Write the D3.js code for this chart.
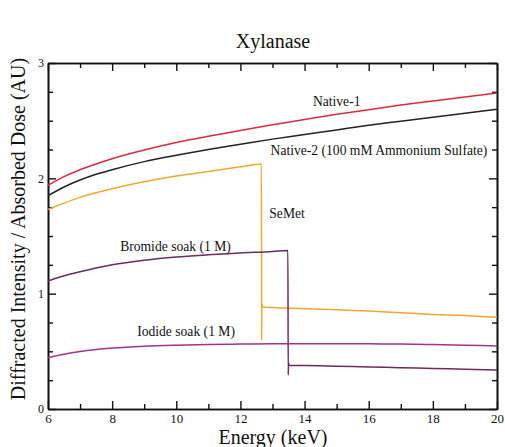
<!DOCTYPE html>
<html>
<head>
<meta charset="utf-8">
<script src="https://cdn.jsdelivr.net/npm/d3@7"></script>
<style>
  body { margin: 0; background: #fff; }
</style>
</head>
<body>
<svg id="xylanaseVis" width="505" height="447"></svg>
<script>
// energies (keV) and values, one array per series
const native1Energy = [6, 6.5, 7, 7.5, 8, 9, 10, 11, 12, 13, 14, 15, 16, 17, 18, 19, 20];
const native1Value = [1.94, 2.015, 2.075, 2.125, 2.17, 2.245, 2.31, 2.365, 2.415, 2.465, 2.51, 2.555, 2.595, 2.635, 2.67, 2.705, 2.74];

const native2Energy = [6, 6.5, 7, 7.5, 8, 9, 10, 11, 12, 13, 14, 15, 16, 17, 18, 19, 20];
const native2Value = [1.85, 1.925, 1.985, 2.035, 2.075, 2.145, 2.20, 2.25, 2.295, 2.34, 2.38, 2.42, 2.46, 2.495, 2.53, 2.565, 2.60];

const semetEnergy = [6, 6.5, 7, 7.5, 8, 9, 10, 11, 12, 12.655, 12.66, 12.665, 12.67, 12.7, 13, 14, 15, 16, 17, 18, 19, 20];
const semetValue = [1.73, 1.785, 1.835, 1.875, 1.91, 1.97, 2.02, 2.06, 2.10, 2.125, 0.60, 0.83, 0.91, 0.885, 0.88, 0.87, 0.86, 0.85, 0.835, 0.82, 0.81, 0.795];

const bromideEnergy = [6, 6.5, 7, 7.5, 8, 9, 10, 11, 12, 13, 13.48, 13.49, 13.5, 13.52, 14, 15, 16, 17, 18, 19, 20];
const bromideValue = [1.11, 1.155, 1.19, 1.222, 1.25, 1.29, 1.318, 1.337, 1.353, 1.366, 1.375, 0.295, 0.40, 0.38, 0.377, 0.371, 0.364, 0.358, 0.351, 0.345, 0.338];

const iodideEnergy = [6, 6.5, 7, 7.5, 8, 9, 10, 11, 12, 13, 14, 15, 16, 17, 18, 19, 20];
const iodideValue = [0.445, 0.475, 0.498, 0.515, 0.528, 0.544, 0.553, 0.559, 0.563, 0.565, 0.566, 0.566, 0.565, 0.563, 0.559, 0.553, 0.547];

const seriesNames = ['Native-1', 'Native-2 (100 mM Ammonium Sulfate)', 'SeMet', 'Bromide soak (1 M)', 'Iodide soak (1 M)'];
const seriesColors = ['#dc2a3c', '#222222', '#f2a72c', '#6c2a62', '#a3328f'];

const xTicks = [6, 8, 10, 12, 14, 16, 18, 20];
const yTicks = [0, 1, 2, 3];

const serif = '"Liberation Serif", "DejaVu Serif", "Times New Roman", serif';

const margin = { top: 63, right: 8, bottom: 38, left: 48 };
const containerWidth = 505, containerHeight = 447;
const width = containerWidth - margin.left - margin.right;
const height = containerHeight - margin.top - margin.bottom;

const svg = d3.select('svg#xylanaseVis');
const chartG = svg.append('g')
    .attr('transform', `translate(${margin.left},${margin.top})`);

const xScale = d3.scaleLinear().domain([6, 20]).range([0, width]);
const yScale = d3.scaleLinear().domain([0, 3]).range([height, 0]);

// ticks point inward on all four sides
const tick = (axis, minor) => axis.tickSizeInner(minor ? -5 : -8).tickSizeOuter(0);

chartG.append('g')
    .attr('transform', `translate(0,${height})`)
    .call(tick(d3.axisBottom(xScale).tickValues(d3.range(7, 20, 2)).tickFormat(''), true));
chartG.append('g')
    .attr('class', 'x-axis')
    .attr('transform', `translate(0,${height})`)
    .call(tick(d3.axisBottom(xScale).tickValues(xTicks).tickFormat(d3.format('d')).tickPadding(5)));
chartG.append('g')
    .call(tick(d3.axisTop(xScale).tickValues(d3.range(7, 20, 2)).tickFormat(''), true));
chartG.append('g')
    .call(tick(d3.axisTop(xScale).tickValues(xTicks).tickFormat('')));

const yMinor = d3.range(0.25, 3, 0.25).filter(v => v % 1 !== 0);
chartG.append('g')
    .call(tick(d3.axisLeft(yScale).tickValues(yMinor).tickFormat(''), true));
chartG.append('g')
    .attr('class', 'y-axis')
    .call(tick(d3.axisLeft(yScale).tickValues(yTicks).tickFormat(d3.format('d')).tickPadding(4)));
chartG.append('g')
    .attr('transform', `translate(${width},0)`)
    .call(tick(d3.axisRight(yScale).tickValues(yMinor).tickFormat(''), true));
chartG.append('g')
    .attr('transform', `translate(${width},0)`)
    .call(tick(d3.axisRight(yScale).tickValues(yTicks).tickFormat('')));

chartG.selectAll('.domain').attr('stroke', '#111').attr('stroke-width', 1.6);
chartG.selectAll('.tick line').attr('stroke', '#111').attr('stroke-width', 1.4);
chartG.selectAll('g').attr('font-family', serif);
chartG.selectAll('.x-axis text').attr('font-size', 13).attr('fill', '#111');
chartG.selectAll('.y-axis text').attr('font-size', 12).attr('fill', '#111');

const lineGen = d3.line()
    .x(d => xScale(d[0]))
    .y(d => yScale(d[1]))
    .curve(d3.curveMonotoneX);

const allSeries = [
    d3.zip(native1Energy, native1Value),
    d3.zip(native2Energy, native2Value),
    d3.zip(semetEnergy, semetValue),
    d3.zip(bromideEnergy, bromideValue),
    d3.zip(iodideEnergy, iodideValue)
];

chartG.append('g')
    .selectAll('path')
    .data(allSeries)
    .enter()
    .append('path')
    .attr('fill', 'none')
    .attr('stroke', (d, i) => seriesColors[i])
    .attr('stroke-width', 1.5)
    .attr('d', lineGen);

// curve labels, placed in data units next to each curve
const labelPos = [[14.26, 2.665], [12.94, 2.24], [12.9, 1.70], [8.25, 1.414], [8.78, 0.67]];
chartG.append('g')
    .selectAll('text')
    .data(seriesNames)
    .enter()
    .append('text')
    .attr('x', (d, i) => xScale(labelPos[i][0]))
    .attr('y', (d, i) => yScale(labelPos[i][1]))
    .attr('dy', '0.35em')
    .attr('font-family', serif)
    .attr('font-size', 13.6)
    .attr('fill', '#111')
    .text(d => d);

svg.append('text')
    .attr('x', 273)
    .attr('y', 48)
    .attr('text-anchor', 'middle')
    .attr('font-family', serif)
    .attr('font-size', 20)
    .attr('fill', '#111')
    .text('Xylanase');

svg.append('text')
    .attr('x', 273)
    .attr('y', 444)
    .attr('text-anchor', 'middle')
    .attr('font-family', serif)
    .attr('font-size', 20)
    .attr('fill', '#111')
    .text('Energy (keV)');

svg.append('text')
    .attr('transform', 'translate(25,229) rotate(-90)')
    .attr('text-anchor', 'middle')
    .attr('font-family', serif)
    .attr('font-size', 20)
    .attr('fill', '#111')
    .text('Diffracted Intensity / Absorbed Dose (AU)');
</script>
</body>
</html>
